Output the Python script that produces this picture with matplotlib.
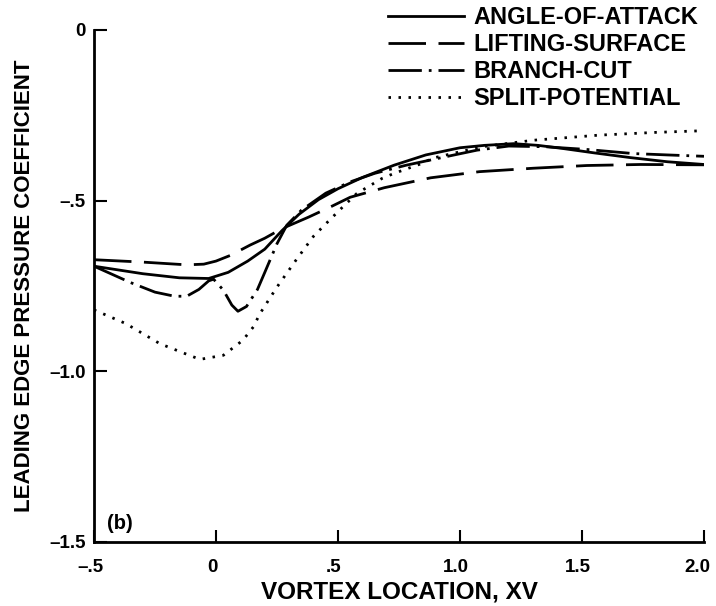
import matplotlib
matplotlib.use("Agg")
import matplotlib.pyplot as plt
import matplotlib.transforms as mtransforms

plt.rcParams['font.family'] = ['Liberation Sans', 'DejaVu Sans']
plt.rcParams['lines.scale_dashes'] = False

# Angle-of-attack (solid)
aoa_x = [-0.5, -0.3, -0.15, -0.03, 0.05, 0.13, 0.2, 0.27, 0.34, 0.42, 0.5, 0.6, 0.73,
         0.86, 1.0, 1.1, 1.22, 1.32, 1.42, 1.55, 1.7, 1.85, 2.0]
aoa_y = [-0.692, -0.714, -0.726, -0.728, -0.71, -0.677, -0.642, -0.588, -0.54, -0.497,
         -0.465, -0.432, -0.396, -0.366, -0.345, -0.338, -0.333, -0.338, -0.347, -0.360,
         -0.374, -0.386, -0.394]

# Lifting-surface (dashed)
ls_x = [-0.5, -0.3, -0.12, -0.05, 0.0, 0.06, 0.14, 0.2, 0.27, 0.38, 0.47, 0.55, 0.69,
        0.88, 1.08, 1.3, 1.52, 1.74, 2.0]
ls_y = [-0.673, -0.68, -0.688, -0.686, -0.677, -0.66, -0.63, -0.61, -0.582, -0.548,
        -0.518, -0.49, -0.462, -0.433, -0.415, -0.405, -0.397, -0.394, -0.395]

# Branch-cut (dash-dot)
bc_x = [-0.5, -0.35, -0.25, -0.17, -0.12, -0.07, -0.03, -0.01, 0.03, 0.065, 0.09, 0.125,
        0.17, 0.2, 0.25, 0.29, 0.35, 0.45, 0.55, 0.65, 0.78, 0.97, 1.07, 1.2, 1.35, 1.52,
        1.71, 1.85, 2.0]
bc_y = [-0.692, -0.74, -0.768, -0.78, -0.78, -0.76, -0.735, -0.73, -0.762, -0.806, -0.824,
        -0.81, -0.76, -0.71, -0.626, -0.572, -0.528, -0.478, -0.445, -0.42, -0.396, -0.367,
        -0.352, -0.34, -0.342, -0.35, -0.362, -0.366, -0.37]

# Split-potential (dotted)
sp_x = [-0.5, -0.37, -0.23, -0.12, -0.066, 0.03, 0.11, 0.153, 0.18, 0.25, 0.33, 0.4,
        0.454, 0.52, 0.577, 0.68, 0.73, 0.84, 0.89, 1.09, 1.3, 1.57, 1.8, 2.0]
sp_y = [-0.82, -0.86, -0.919, -0.95, -0.965, -0.953, -0.909, -0.87, -0.831, -0.753,
        -0.672, -0.604, -0.565, -0.518, -0.479, -0.435, -0.42, -0.392, -0.375, -0.342,
        -0.323, -0.308, -0.3, -0.295]

labels = ['ANGLE-OF-ATTACK', 'LIFTING-SURFACE', 'BRANCH-CUT', 'SPLIT-POTENTIAL']
xticks = [-0.5, 0.0, 0.5, 1.0, 1.5, 2.0]
xticklabels = ['\u2013.5', '0', '.5', '1.0', '1.5', '2.0']
yticks = [0.0, -0.5, -1.0, -1.5]
yticklabels = ['0', '\u2013.5', '\u20131.0', '\u20131.5']

fig = plt.figure(figsize=(7.16, 6.06), dpi=100)
ax = fig.add_axes([94/716, 64/606, 610/716, 512/606])

lw = 2.0
ax.plot(aoa_x, aoa_y, color='black', lw=lw, linestyle='-', label=labels[0])
ax.plot(ls_x, ls_y, color='black', lw=lw, linestyle=(0, (27, 9)), label=labels[1])
ax.plot(bc_x, bc_y, color='black', lw=lw, linestyle=(0, (24, 5, 2, 5)), label=labels[2])
ax.plot(sp_x, sp_y, color='black', lw=lw, linestyle=(0, (1.8, 5.4)), label=labels[3])

ax.set_xlim(-0.5, 2.0)
ax.set_ylim(-1.5, 0.0)
for s in ['top', 'right']:
    ax.spines[s].set_visible(False)
for s in ['left', 'bottom']:
    ax.spines[s].set_linewidth(2.0)

tfs = 13.5
ax.set_xticks(xticks)
ax.set_xticklabels(xticklabels, fontsize=tfs, fontweight='bold')
ax.set_yticks(yticks)
ax.set_yticklabels(yticklabels, fontsize=tfs, fontweight='bold')
ax.tick_params(axis='x', direction='in', length=9, width=1.5, pad=12.5)
ax.tick_params(axis='y', direction='in', length=9, width=1.5, pad=6)

# nudge x tick labels slightly left as in the reference
shift = mtransforms.ScaledTranslation(-4/100, 0, fig.dpi_scale_trans)
for lab in ax.get_xticklabels():
    lab.set_transform(lab.get_transform() + shift)
last = ax.get_xticklabels()[-1]
last.set_transform(last.get_transform() + mtransforms.ScaledTranslation(-3/100, 0, fig.dpi_scale_trans))

ax.set_xlabel('VORTEX LOCATION, XV', fontsize=17.5, fontweight='bold', labelpad=3)
ax.set_ylabel('LEADING EDGE PRESSURE COEFFICIENT', fontsize=16, fontweight='bold', labelpad=10)

ax.text(-0.447, -1.463, '(b)', fontsize=14.5, fontweight='bold', ha='left', va='baseline')

leg = ax.legend(loc='upper left', bbox_to_anchor=(388/716, 1 - 6/606),
                bbox_transform=fig.transFigure, frameon=False,
                handlelength=3.2, handletextpad=0.42, labelspacing=0.17, borderpad=0,
                borderaxespad=0, prop={'size': 17, 'weight': 'bold'})

fig.savefig('out.png', dpi=100)
